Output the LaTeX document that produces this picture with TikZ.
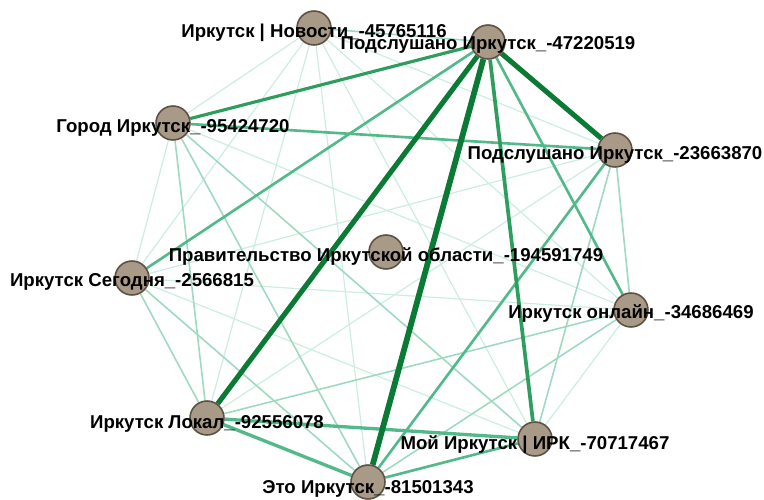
\documentclass[tikz,border=0pt]{standalone}
\usepackage{fontspec}
\setmainfont{Liberation Sans}
\usetikzlibrary{backgrounds}
\definecolor{vfill}{HTML}{A89A86}
\definecolor{vline}{HTML}{5C5244}
\definecolor{edark}{HTML}{0B7A34}
\definecolor{emid}{HTML}{2E9E5E}
\definecolor{elight}{HTML}{52BA8A}
\definecolor{efaint}{HTML}{9ED9C0}
\definecolor{ehair}{HTML}{CDEDE0}
\tikzset{
  vtx/.style={circle, fill=vfill, draw=vline, line width=0.9pt, minimum size=0.68cm, inner sep=0pt},
  lbl/.style={font=\fontsize{10.6}{12}\selectfont\bfseries, text=black, inner sep=0pt},
  wdark/.style={edark, line width=2.9pt},
  wmid/.style={emid, line width=2.1pt},
  wlight/.style={elight, line width=1.5pt},
  wfaint/.style={efaint, line width=0.9pt},
  whair/.style={ehair, line width=0.7pt}
}
\begin{document}
\begin{tikzpicture}[x=0.02cm, y=-0.02cm]
    \useasboundingbox (0,0) rectangle (764,500);
    % vertices
    \node[vtx] (nov) at (314,28) {};
    \node[vtx] (pa) at (488,42) {};
    \node[vtx] (gor) at (173,123) {};
    \node[vtx] (pb) at (615,150) {};
    \node[vtx] (gov) at (386,252) {};
    \node[vtx] (seg) at (132,278) {};
    \node[vtx] (onl) at (631,310) {};
    \node[vtx] (lok) at (207,418) {};
    \node[vtx] (moi) at (535,439) {};
    \node[vtx] (eto) at (368,482) {};
    \begin{scope}[on background layer]
        % faint edges
        \foreach \a/\b in {nov/gor,nov/seg,nov/lok,nov/moi,nov/eto,nov/onl,nov/pb,
                           gor/seg,gor/onl,seg/onl,seg/moi,seg/pb,lok/pb,onl/moi}
            \draw[whair] (\a)--(\b);
        \foreach \a/\b in {gor/lok,gor/eto,gor/moi,seg/lok,seg/eto,lok/onl,
                           pb/onl,pb/moi,nov/pa,eto/onl}
            \draw[wfaint] (\a)--(\b);
        % stronger edges
        \draw[wlight] (gor)--(pb);
        \draw[wlight] (pa)--(seg);
        \draw[wlight] (pa)--(onl);
        \draw[wlight] (eto)--(moi);
        \draw[wlight] (eto)--(pb);
        \draw[wlight, line width=1.9pt] (lok)--(moi);
        \draw[wlight, line width=1.9pt] (lok)--(eto);
        \draw[wmid, line width=1.8pt] (pa)--(gor);
        \draw[wmid] (pa)--(moi);
        \draw[wdark] (pa)--(pb);
        \draw[wdark] (pa)--(lok);
        \draw[wdark, line width=3.3pt] (pa)--(eto);
    \end{scope}
    % labels
    \node[lbl] at ([yshift=-0.09cm]nov) {Иркутск | Новости\_-45765116};
    \node[lbl] at ([yshift=-0.06cm]pa) {Подслушано Иркутск\_-47220519};
    \node[lbl] at ([yshift=-0.1cm]gor) {Город Иркутск\_-95424720};
    \node[lbl] at ([yshift=-0.1cm]pb) {Подслушано Иркутск\_-23663870};
    \node[lbl] at ([yshift=-0.1cm]gov) {Правительство Иркутской области\_-194591749};
    \node[lbl] at ([yshift=-0.08cm]seg) {Иркутск Сегодня\_-2566815};
    \node[lbl] at ([yshift=-0.08cm]onl) {Иркутск онлайн\_-34686469};
    \node[lbl] at ([yshift=-0.12cm]lok) {Иркутск Локал\_-92556078};
    \node[lbl] at ([yshift=-0.12cm]moi) {Мой Иркутск | ИРК\_-70717467};
    \node[lbl] at ([yshift=-0.14cm]eto) {Это Иркутск\_-81501343};
\end{tikzpicture}
\end{document}
